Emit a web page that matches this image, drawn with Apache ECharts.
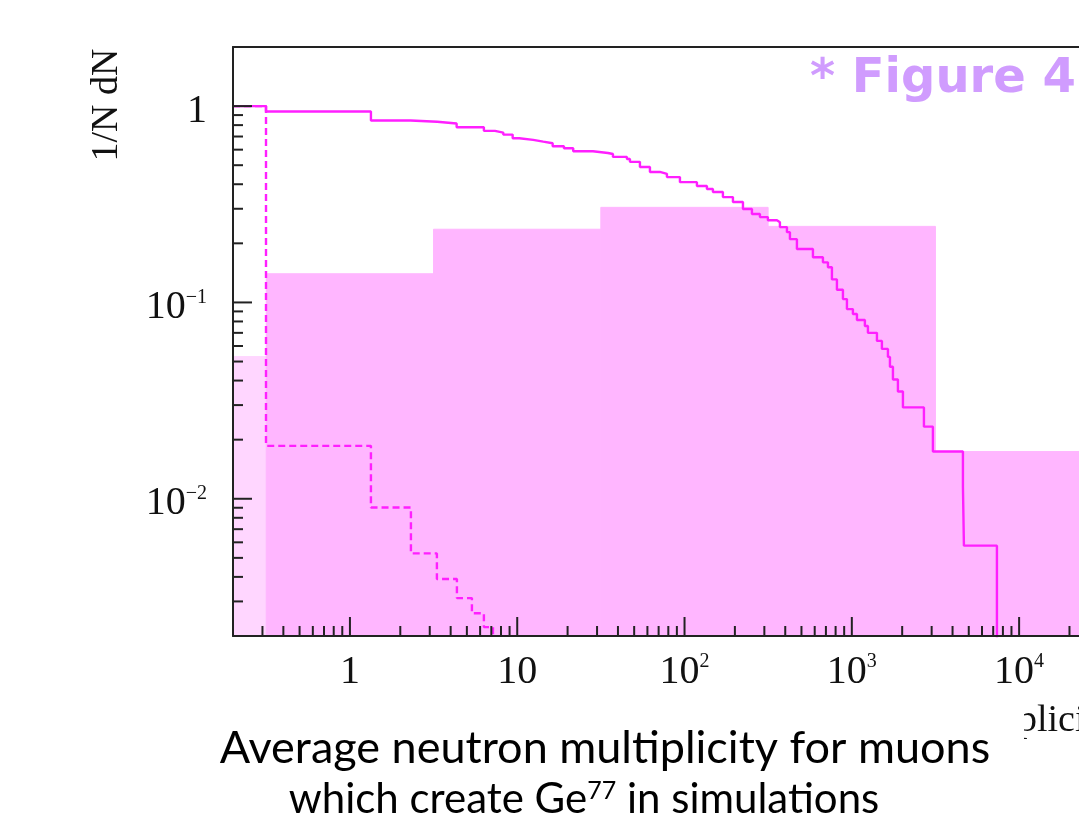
<!DOCTYPE html>
<html><head><meta charset="utf-8">
<script src="https://cdn.jsdelivr.net/npm/echarts@6/dist/echarts.min.js"></script>
<style>html,body{margin:0;padding:0;background:#fff}#c{width:1079px;height:827px}</style>
</head><body><div id="c"></div>
<script>
// ---- axis ticks / labels ----
const xTickValues = [1, 10, 100, 1000, 10000];
const xTickLabels = ['1', '10', '10^2', '10^3', '10^4'];
const yTickValues = [1, 0.1, 0.01];
const yTickLabels = ['1', '10^−1', '10^−2'];
const yAxisTitle = '1/N dN';
const xAxisTitle = 'Neutron multiplicity';
const figureTag = '* Figure 4';
const captionLine1 = 'Average neutron multiplicity for muons';
const captionLine2 = 'which create Ge^77 in simulations';

// ---- filled histogram (bin edges, bin contents) ----
const fillEdges = [0.0316, 0.316, 3.16, 31.6, 316, 3162, 31623];
const fillValues = [0.053, 0.140, 0.236, 0.305, 0.244, 0.0174];

// ---- solid step line (step start, value) ----
const solidEdges = [0.2, 0.315, 1.335, 2.306, 3.325, 4.343, 6.32, 7.36, 8.25, 9.39, 10.28, 12.46, 14.30, 16.28, 19.02, 21.61, 28.35, 34.84, 37.33, 45.26, 47.17, 54.13, 62.12, 71.28, 78.49, 93.87, 118.6, 136.1, 147.8, 169.6, 194.7, 223.5, 252.9, 282.3, 315.0, 356.7, 371.7, 409.4, 426.6, 469.7, 585.6, 671.9, 719.8, 760.5, 814.6, 884.9, 934.9, 1015, 1073, 1197, 1248, 1413, 1513, 1644, 1690, 1761, 1886, 2021, 2698, 3053, 4615, 4678, 7368];
const solidValues = [1.0, 0.939, 0.844, 0.832, 0.815, 0.781, 0.748, 0.733, 0.716, 0.686, 0.673, 0.659, 0.647, 0.625, 0.610, 0.589, 0.577, 0.570, 0.551, 0.538, 0.520, 0.490, 0.462, 0.452, 0.435, 0.410, 0.392, 0.378, 0.365, 0.344, 0.325, 0.299, 0.282, 0.272, 0.262, 0.256, 0.242, 0.228, 0.210, 0.187, 0.170, 0.160, 0.151, 0.131, 0.116, 0.104, 0.0925, 0.0873, 0.0814, 0.0759, 0.070, 0.0637, 0.0580, 0.0528, 0.0470, 0.0405, 0.0352, 0.0292, 0.0233, 0.0174, 0.0115, 0.00577, 0];

// ---- dashed step line (step start, value) ----
const dashedEdges = [0.2, 0.315, 1.335, 2.315, 3.31, 4.36, 5.36, 6.32, 7.16];
const dashedValues = [1.0, 0.0186, 0.00902, 0.00527, 0.0039, 0.00312, 0.00261, 0.00222, 0];

const X_MIN = 0.2, X_MAX = 22800, Y_MIN = 0.002, Y_MAX = 2;
const ZERO = 1e-6; // stand-in for 0 on a log axis (clipped away)

function richLabel(s) {
  return s.replace(/\^(\S+)/g, '{sup|$1}');
}
function minorTicks(lo, hi) {
  const out = [];
  for (let e = -4; e <= 5; e++) for (let m = 2; m <= 9; m++) {
    const v = m * Math.pow(10, e);
    if (v > lo * 1.0001 && v < hi * 0.9999) out.push(v);
  }
  return out;
}
function stepData(edges, vals) {
  const d = edges.map((x, i) => [x, vals[i] > 0 ? vals[i] : ZERO]);
  d.push([X_MAX * 10, d[d.length - 1][1]]);
  return d;
}

const xTickData = xTickValues.map(v => [v, Y_MIN, 1]).concat(minorTicks(X_MIN, X_MAX).map(v => [v, Y_MIN, 0]));
const yTickData = yTickValues.map(v => [X_MIN, v, 1]).concat(minorTicks(Y_MIN, Y_MAX).map(v => [X_MIN, v, 0]));
const fillData = fillValues.map((v, i) => [fillEdges[i], fillEdges[i + 1], v, i]);

const serif = 'Liberation Serif';
const tickFont = { fontFamily: serif, fontSize: 40, fill: '#111',
  rich: { sup: { fontFamily: serif, fontSize: 20, verticalAlign: 'top', fill: '#111' } } };

const chart = echarts.init(document.getElementById('c'), null, { renderer: 'canvas' });
chart.setOption({
  animation: false,
  backgroundColor: '#fff',
  grid: { left: 233, top: 47, width: 846, height: 589, show: false },
  xAxis: [
    { type: 'log', min: X_MIN, max: X_MAX, z: 10, position: 'bottom',
      axisLine: { show: true, onZero: false, lineStyle: { color: '#222', width: 2 } },
      axisTick: { show: false }, axisLabel: { show: false }, splitLine: { show: false } },
    { type: 'log', min: X_MIN, max: X_MAX, z: 10, position: 'top',
      axisLine: { show: true, onZero: false, lineStyle: { color: '#222', width: 2 } },
      axisTick: { show: false }, axisLabel: { show: false }, splitLine: { show: false } }
  ],
  yAxis: [
    { type: 'log', min: Y_MIN, max: Y_MAX, z: 10,
      axisLine: { show: true, onZero: false, lineStyle: { color: '#222', width: 2 } },
      axisTick: { show: false }, axisLabel: { show: false }, splitLine: { show: false } }
  ],
  series: [
    { type: 'custom', name: 'fill', z: 1, data: fillData, encode: { x: [0, 1], y: 2 },
      renderItem(params, api) {
        const p0 = api.coord([api.value(0), api.value(2)]);
        const p1 = api.coord([api.value(1), Y_MIN]);
        const cs = params.coordSys;
        const r = echarts.graphic.clipRectByRect(
          { x: p0[0], y: p0[1], width: p1[0] - p0[0], height: p1[1] - p0[1] },
          { x: cs.x, y: cs.y, width: cs.width, height: cs.height });
        if (!r) return;
        const c = api.value(3) === 0 ? '#ffd6ff' : '#ffb6ff';
        return { type: 'rect', shape: r, style: { fill: c, stroke: c, lineWidth: 1 } };
      } },
    { type: 'line', name: 'dashed', z: 3, step: 'end', symbol: 'none', clip: true,
      data: stepData(dashedEdges, dashedValues),
      lineStyle: { color: '#ff1fff', width: 2.4, type: [7, 4] } },
    { type: 'line', name: 'solid', z: 4, step: 'end', symbol: 'none', clip: true,
      data: stepData(solidEdges, solidValues),
      lineStyle: { color: '#ff1fff', width: 2.4 } },
    { type: 'custom', name: 'xticks', z: 8, data: xTickData, encode: { x: 0, y: 1 },
      renderItem(params, api) {
        const p = api.coord([api.value(0), api.value(1)]);
        const len = api.value(2) ? 19 : 10;
        return { type: 'line', shape: { x1: p[0], y1: p[1], x2: p[0], y2: p[1] - len },
          style: { stroke: '#222', lineWidth: 2 } };
      } },
    { type: 'custom', name: 'yticks', z: 8, data: yTickData, encode: { x: 0, y: 1 },
      renderItem(params, api) {
        const p = api.coord([api.value(0), api.value(1)]);
        const len = api.value(2) ? 19 : 10;
        return { type: 'line', shape: { x1: p[0], y1: p[1], x2: p[0] + len, y2: p[1] },
          style: { stroke: '#222', lineWidth: 2 } };
      } },
    { type: 'custom', name: 'xlabels', z: 8, data: xTickValues.map((v, i) => [v, Y_MIN, i]),
      encode: { x: 0, y: 1 },
      renderItem(params, api) {
        const p = api.coord([api.value(0), api.value(1)]);
        return { type: 'text', x: p[0], y: p[1] + 16,
          style: Object.assign({ text: richLabel(xTickLabels[api.value(2)]), align: 'center', verticalAlign: 'top' }, tickFont) };
      } },
    { type: 'custom', name: 'ylabels', z: 8, data: yTickValues.map((v, i) => [X_MIN, v, i]),
      encode: { x: 0, y: 1 },
      renderItem(params, api) {
        const p = api.coord([api.value(0), api.value(1)]);
        return { type: 'text', x: p[0] - 26, y: p[1] + 5,
          style: Object.assign({ text: richLabel(yTickLabels[api.value(2)]), align: 'right', verticalAlign: 'middle' }, tickFont) };
      } }
  ],
  graphic: [
    { type: 'text', x: 107, y: 105, rotation: Math.PI / 2, z: 20,
      style: { text: yAxisTitle, fontFamily: serif, fontSize: 38, fill: '#111', align: 'center', verticalAlign: 'middle' } },
    { type: 'text', x: 1115, y: 721, z: 20,
      style: { text: xAxisTitle, fontFamily: serif, fontSize: 38, fill: '#111', align: 'right', verticalAlign: 'middle' } },
    { type: 'rect', shape: { x: 196, y: 698, width: 828, height: 129 }, z: 30,
      style: { fill: '#fff' } },
    { type: 'text', x: 605, y: 748, z: 31,
      style: { text: captionLine1, fontFamily: 'Lato', fontSize: 45, fill: '#000', align: 'center', verticalAlign: 'middle' } },
    { type: 'text', x: 584, y: 799, z: 31,
      style: { text: richLabel(captionLine2), fontFamily: 'Lato', fontSize: 42, fill: '#000', align: 'center', verticalAlign: 'middle',
        rich: { sup: { fontFamily: 'Lato', fontSize: 25, verticalAlign: 'top', fill: '#000' } } } },
    { type: 'text', x: 810, y: 56, z: 31,
      style: { text: figureTag, fontFamily: 'DejaVu Sans', fontWeight: 'bold', fontSize: 48, fill: '#d09cfe', align: 'left', verticalAlign: 'top' } }
  ]
});
</script></body></html>
